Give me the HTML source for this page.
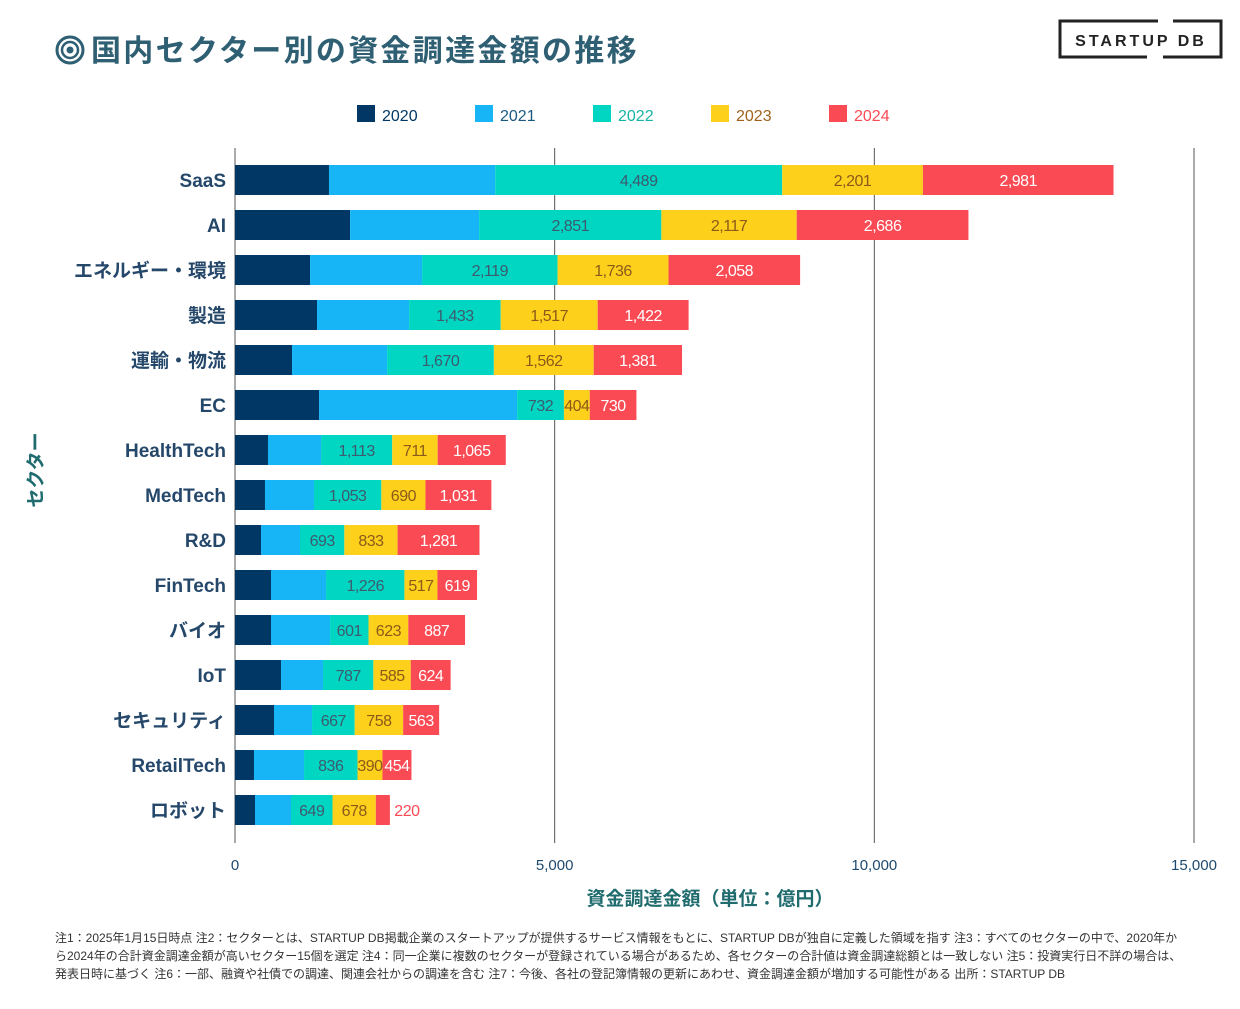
<!DOCTYPE html>
<html><head><meta charset="utf-8"><style>
body{margin:0;background:#fff;width:1240px;height:1004px;overflow:hidden;font-family:"Liberation Sans","Noto Sans CJK JP",sans-serif}
</style></head><body>
<svg id="c" width="1240" height="1004" xmlns="http://www.w3.org/2000/svg" font-family="'Liberation Sans','Noto Sans CJK JP',sans-serif">
<g>
<circle cx="70" cy="50" r="13" fill="none" stroke="#2f5f73" stroke-width="3"/>
<circle cx="70" cy="50" r="8" fill="none" stroke="#2f5f73" stroke-width="2.5"/>
<circle cx="70" cy="50" r="3.5" fill="#2f5f73"/>
<text x="91" y="61" font-size="30" font-weight="bold" fill="#2f5f73" letter-spacing="2.3">国内セクター別の資金調達金額の推移</text>
</g>
<g>
<path d="M1158 21 H1060 V57 H1147 M1163 57 H1221 V21 H1173" fill="none" stroke="#222" stroke-width="3"/>
<text x="1141" y="46" font-size="16" font-weight="bold" fill="#222" text-anchor="middle" letter-spacing="3">STARTUP DB</text>
</g>
<g id="legend"></g>
<g id="grid"></g>
<g id="bars"></g>
<g id="ylab"></g>
<g id="xt"></g>
<text x="710" y="905" font-size="19" font-weight="bold" fill="#1f6b6e" text-anchor="middle">資金調達金額（単位：億円）</text>
<text transform="translate(42,470) rotate(-90)" font-size="19" font-weight="bold" fill="#1f6b6e" text-anchor="middle">セクター</text>
<g font-size="12" fill="#333">
<text x="55" y="942">注1：2025年1月15日時点 注2：セクターとは、STARTUP DB掲載企業のスタートアップが提供するサービス情報をもとに、STARTUP DBが独自に定義した領域を指す 注3：すべてのセクターの中で、2020年か</text>
<text x="55" y="960">ら2024年の合計資金調達金額が高いセクター15個を選定 注4：同一企業に複数のセクターが登録されている場合があるため、各セクターの合計値は資金調達総額とは一致しない 注5：投資実行日不詳の場合は、</text>
<text x="55" y="978">発表日時に基づく 注6：一部、融資や社債での調達、関連会社からの調達を含む 注7：今後、各社の登記簿情報の更新にあわせ、資金調達金額が増加する可能性がある 出所：STARTUP DB</text>
</g>
</svg>
<script>
const categories=["SaaS","AI","エネルギー・環境","製造","運輸・物流","EC","HealthTech","MedTech","R&D","FinTech","バイオ","IoT","セキュリティ","RetailTech","ロボット"];
const years=["2020","2021","2022","2023","2024"];
const v2020=[1470,1800,1174,1283,892,1315,516,469,407,563,563,720,610,297,313];
const v2021=[2600,2018,1752,1440,1487,3098,830,767,610,861,924,657,595,783,563];
const v2022=[4489,2851,2119,1433,1670,732,1113,1053,693,1226,601,787,667,836,649];
const v2023=[2201,2117,1736,1517,1562,404,711,690,833,517,623,585,758,390,678];
const v2024=[2981,2686,2058,1422,1381,730,1065,1031,1281,619,887,624,563,454,220];
const xTicks=[0,5000,10000,15000];
const series=[v2020,v2021,v2022,v2023,v2024];
const colors=["#003764","#17b4f6","#00d6c2","#fdd01c","#fa4a54"];
const labelColors=[null,null,"#3d5a6e","#8b5a1a","#ffffff"];
const legendColors=["#003764","#1a5a80","#17b3a4","#a0621a","#fa4a54"];
const NS="http://www.w3.org/2000/svg";
const x=v=>235+v*(1194-235)/15000;
const yc=i=>180+i*45.0;
const BH=30;
function mk(t,a,p,txt){const e=document.createElementNS(NS,t);for(const k in a)e.setAttribute(k,a[k]);if(txt!=null)e.textContent=txt;p.appendChild(e);return e;}
const G=id=>document.getElementById(id);
xTicks.forEach(t=>{
 const l=mk("line",{x1:x(t),x2:x(t),y1:148,y2:843,stroke:"#555","stroke-width":1},G("grid"));
 
 
 const tx=mk("text",{x:x(t),y:870,"font-size":15,fill:"#1f4a6e","text-anchor":"middle"},G("xt"),t.toLocaleString("en-US"));
 
 
});
years.forEach((y,k)=>{
 const gx=357+k*118;
 const r=mk("rect",{x:gx,y:105,width:18,height:17,fill:colors[k]},G("legend"));
 
 
 const t=mk("text",{x:gx+25,y:121,"font-size":16,fill:legendColors[k]},G("legend"),y);
 
 
});
categories.forEach((c,i)=>{
 const t=mk("text",{x:226,y:yc(i)+7,"font-size":19,"font-weight":"bold",fill:"#24476a","text-anchor":"end"},G("ylab"),c);
 
 
 let acc=0;
 series.forEach((s,k)=>{
  const v=s[i];const x0=x(acc),x1=x(acc+v);
  const r=mk("rect",{x:x0,y:yc(i)-BH/2,width:x1-x0,height:BH,fill:colors[k]},G("bars"));
  
  
  if(labelColors[k]){
   const w=x1-x0;const out=w<22;
   const lt=mk("text",{x:out?x1+17:(x0+x1)/2,y:yc(i)+6,"font-size":16,fill:out?colors[k]:labelColors[k],"text-anchor":"middle","letter-spacing":"-0.5"},G("bars"),v.toLocaleString("en-US"));
   
   
  }
  acc+=v;
 });
});
const ax=mk("line",{x1:235,x2:235,y1:148,y2:843,stroke:"#555","stroke-width":1},G("grid"));


</script>
</body></html>
